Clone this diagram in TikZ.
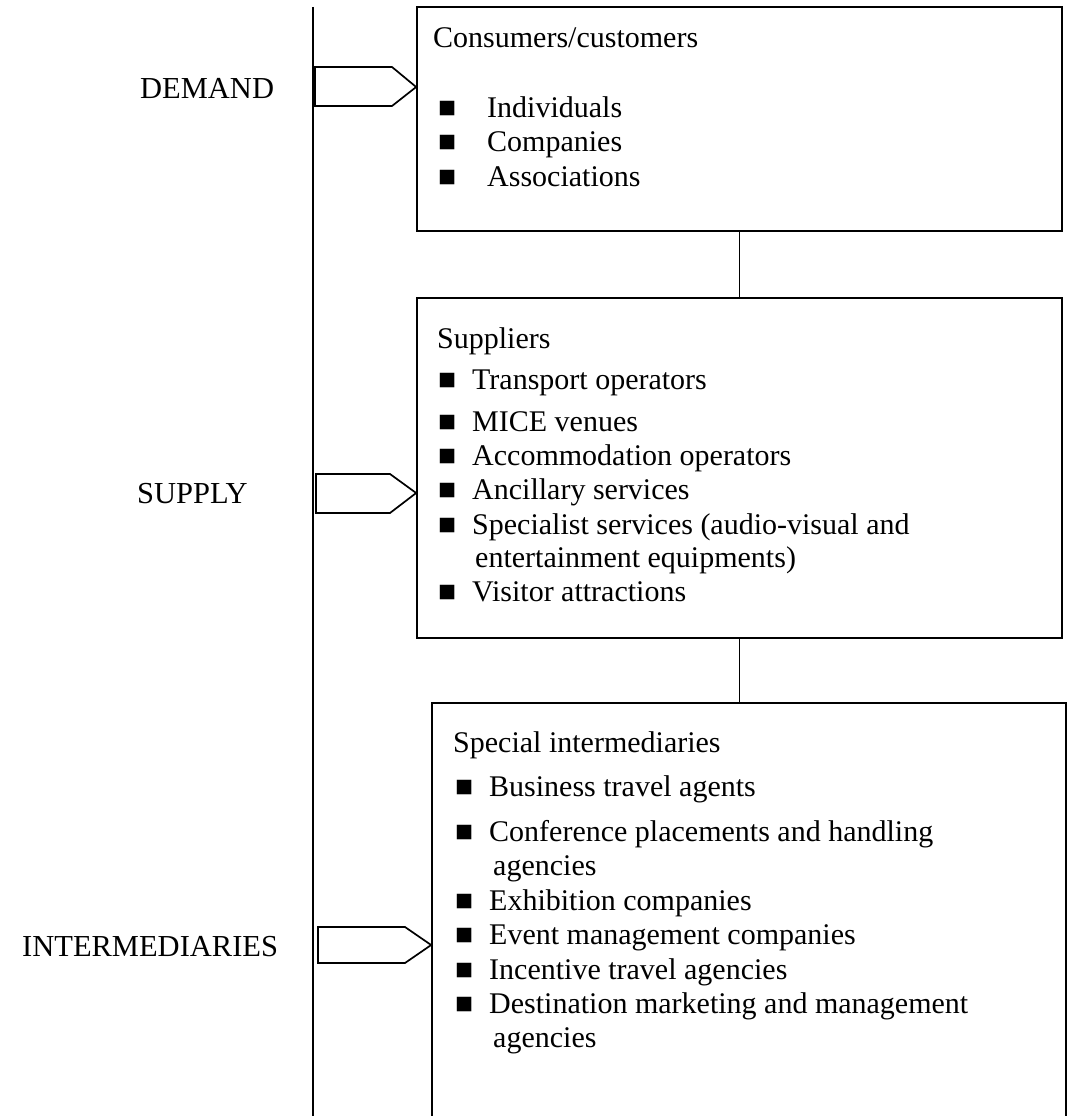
\documentclass[tikz,border=0pt]{standalone}
\usepackage{fontspec}
\setmainfont{Liberation Serif}
\begin{document}
\begin{tikzpicture}[x=1pt,y=-1pt,
  line/.style={line width=1.7pt,black},
  box/.style={draw,line width=1.7pt,inner sep=0pt},
  txt/.style={anchor=base west,inner sep=0pt,font=\fontsize{30}{34.5}\selectfont},
  lbl/.style={anchor=base west,inner sep=0pt,font=\fontsize{30.5}{36}\selectfont}]
\useasboundingbox (0,0) rectangle (1070,1116);
% axis
\coordinate (axtop) at (313,7);
\coordinate (axbot) at (313,1120);
\draw[line] (axtop) -- (axbot);
% boxes
\node[box,minimum width=645pt,minimum height=224pt] (b1) at (739.5,119) {};
\node[box,minimum width=645pt,minimum height=340pt] (b2) at (739.5,468) {};
\node[box,minimum width=634pt,minimum height=430pt] (b3) at (749,918) {};
% connectors
\draw[line] (b1.south) -- (b2.north);
\draw[line] (b2.south) -- (b2.south |- b3.north);
% arrows
\draw[line,line join=miter] (315,67) -- (392,67) -- (b1.west |- 0,87) -- (392,106) -- (315,106) -- cycle;
\draw[line,line join=miter] (316,474) -- (390,474) -- (b2.west |- 0,493) -- (390,513) -- (316,513) -- cycle;
\draw[line,line join=miter] (318,927) -- (405,927) -- (b3.west |- 0,945) -- (405,963) -- (318,963) -- cycle;
% labels
\node[lbl] (ldem) at (140,99) {DEMAND};
\node[lbl] (lsup) at (137,503) {SUPPLY};
\node[lbl] (lint) at (22,956) {INTERMEDIARIES};
% box 1
\node[txt] (t1) at (433,48) {Consumers/customers};
\node[txt] (t1a) at (438,117) {■};\node[txt] (t1at) at (487,117) {Individuals};
\node[txt] (t1b) at (438,151.5) {■};\node[txt] (t1bt) at (487,151.5) {Companies};
\node[txt] (t1c) at (438,186) {■};\node[txt] (t1ct) at (487,186) {Associations};
% box 2
\node[txt] (t2) at (437,348) {Suppliers};
\node[txt] (t2a) at (438,389) {■};\node[txt] (t2at) at (472,389) {Transport operators};
\node[txt] (t2b) at (438,431) {■};\node[txt] (t2bt) at (472,431) {MICE venues};
\node[txt] (t2c) at (438,465) {■};\node[txt] (t2ct) at (472,465) {Accommodation operators};
\node[txt] (t2d) at (438,499.5) {■};\node[txt] (t2dt) at (472,499.5) {Ancillary services};
\node[txt] (t2e) at (438,534) {■};\node[txt] (t2et) at (472,534) {Specialist services (audio-visual and};
\node[txt] (t2e2) at (475,567) {entertainment equipments)};
\node[txt] (t2f) at (438,601) {■};\node[txt] (t2ft) at (472,601) {Visitor attractions};
% box 3
\node[txt] (t3) at (453,752) {Special intermediaries};
\node[txt] (t3a) at (455,796) {■};\node[txt] (t3at) at (489,796) {Business travel agents};
\node[txt] (t3b) at (455,841) {■};\node[txt] (t3bt) at (489,841) {Conference placements and handling};
\node[txt] (t3b2) at (493,875) {agencies};
\node[txt] (t3c) at (455,910) {■};\node[txt] (t3ct) at (489,910) {Exhibition companies};
\node[txt] (t3d) at (455,944) {■};\node[txt] (t3dt) at (489,944) {Event management companies};
\node[txt] (t3e) at (455,979) {■};\node[txt] (t3et) at (489,979) {Incentive travel agencies};
\node[txt] (t3f) at (455,1013) {■};\node[txt] (t3ft) at (489,1013) {Destination marketing and management};
\node[txt] (t3f2) at (493,1047) {agencies};
\end{tikzpicture}
\end{document}
